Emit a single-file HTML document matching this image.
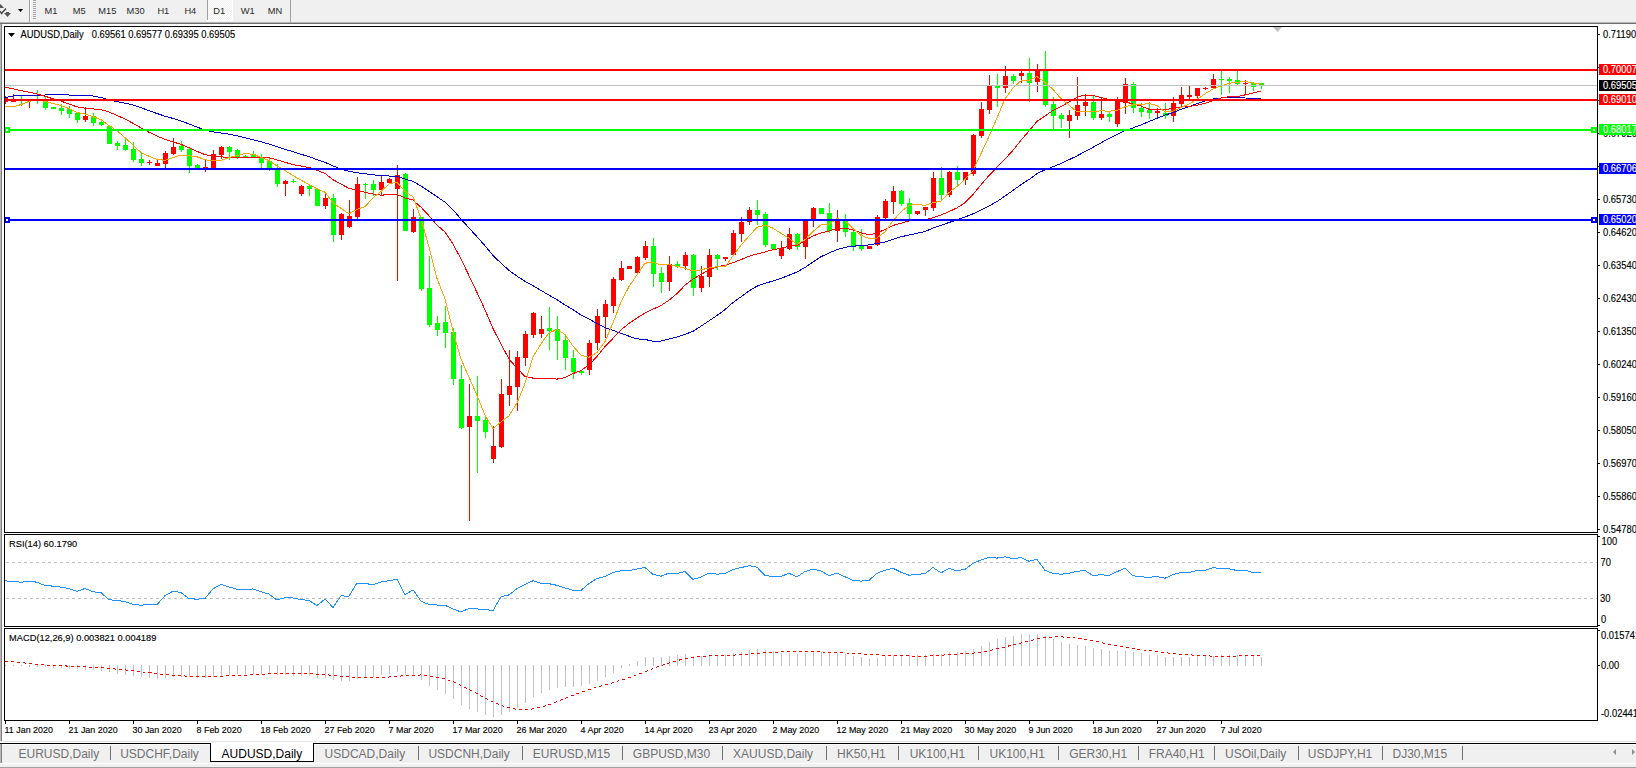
<!DOCTYPE html>
<html><head><meta charset="utf-8"><style>
html,body{margin:0;padding:0;background:#f0f0f0;}
body{width:1636px;height:768px;overflow:hidden;position:relative;}
svg{position:absolute;left:0;top:0;font-family:"Liberation Sans",sans-serif;}
</style></head><body>
<svg width="1636" height="768" viewBox="0 0 1636 768" shape-rendering="crispEdges">
<defs><clipPath id="cm"><rect x="5" y="27" width="1592" height="505"/></clipPath></defs>
<rect x="0" y="0" width="1636" height="22" fill="#f0f0f0"/>
<rect x="0" y="22" width="1636" height="1" fill="#b4b4b4"/>
<rect x="0" y="23" width="1636" height="1" fill="#6e6e6e"/>
<path d="M-3 8 L0.5 4 L4 8 Z" fill="#555" shape-rendering="auto"/>
<path d="M0 11 L1.5 13.5 L6 8.5" stroke="#444" stroke-width="1.4" fill="none" shape-rendering="auto"/>
<path d="M4 13 L11 13 L7.5 17 Z" fill="#555" shape-rendering="auto"/>
<rect x="6" y="12" width="3" height="1" fill="#555"/>
<path d="M18 9 L23 9 L20.5 12 Z" fill="#000" shape-rendering="auto"/>
<rect x="29" y="0" width="1" height="22" fill="#a0a0a0"/>
<rect x="30" y="0" width="1" height="22" fill="#ffffff"/>
<rect x="33" y="0" width="3" height="1" fill="#a8a8a8"/>
<rect x="33" y="2" width="3" height="1" fill="#a8a8a8"/>
<rect x="33" y="4" width="3" height="1" fill="#a8a8a8"/>
<rect x="33" y="6" width="3" height="1" fill="#a8a8a8"/>
<rect x="33" y="8" width="3" height="1" fill="#a8a8a8"/>
<rect x="33" y="10" width="3" height="1" fill="#a8a8a8"/>
<rect x="33" y="12" width="3" height="1" fill="#a8a8a8"/>
<rect x="33" y="14" width="3" height="1" fill="#a8a8a8"/>
<rect x="33" y="16" width="3" height="1" fill="#a8a8a8"/>
<rect x="33" y="18" width="3" height="1" fill="#a8a8a8"/>
<rect x="207" y="0" width="1" height="20" fill="#a0a0a0"/>
<defs><pattern id="dith" width="2" height="2" patternUnits="userSpaceOnUse"><rect width="2" height="2" fill="#f0f0f0"/><rect width="1" height="1" fill="#ffffff"/><rect x="1" y="1" width="1" height="1" fill="#ffffff"/></pattern></defs>
<rect x="208" y="0" width="24" height="20" fill="url(#dith)"/>
<rect x="232" y="0" width="1" height="21" fill="#ffffff"/>
<rect x="207" y="20" width="26" height="1" fill="#ffffff"/>
<rect x="290" y="0" width="1" height="22" fill="#a0a0a0"/>
<text font-size="9.8" fill="#2a2a2a" transform="translate(44.6,14) scale(0.95,1)">M1</text>
<text font-size="9.8" fill="#2a2a2a" transform="translate(72.7,14) scale(0.95,1)">M5</text>
<text font-size="9.8" fill="#2a2a2a" transform="translate(98.3,14) scale(0.95,1)">M15</text>
<text font-size="9.8" fill="#2a2a2a" transform="translate(126.6,14) scale(0.95,1)">M30</text>
<text font-size="9.8" fill="#2a2a2a" transform="translate(157.4,14) scale(0.95,1)">H1</text>
<text font-size="9.8" fill="#2a2a2a" transform="translate(184.4,14) scale(0.95,1)">H4</text>
<text font-size="9.8" fill="#2a2a2a" transform="translate(213.2,14) scale(0.95,1)">D1</text>
<text font-size="9.8" fill="#2a2a2a" transform="translate(240.8,14) scale(0.95,1)">W1</text>
<text font-size="9.8" fill="#2a2a2a" transform="translate(267.8,14) scale(0.95,1)">MN</text>
<rect x="0" y="24" width="1636" height="718" fill="#ffffff"/>
<rect x="0" y="24" width="1" height="718" fill="#b8b8b8"/>
<rect x="1" y="24" width="1" height="718" fill="#808080"/>
<g clip-path="url(#cm)">
<rect x="5" y="96" width="1" height="8" fill="#ff0000"/>
<rect x="3" y="98" width="5" height="4" fill="#ff0000"/>
<rect x="13" y="94" width="1" height="8" fill="#ff0000"/>
<rect x="11" y="99" width="5" height="3" fill="#ff0000"/>
<rect x="21" y="96" width="1" height="10" fill="#00ff00"/>
<rect x="19" y="100" width="5" height="1" fill="#00ff00"/>
<rect x="29" y="99" width="1" height="9" fill="#ff0000"/>
<rect x="27" y="99" width="5" height="1" fill="#ff0000"/>
<rect x="37" y="90" width="1" height="14" fill="#00ff00"/>
<rect x="35" y="99" width="5" height="2" fill="#00ff00"/>
<rect x="45" y="97" width="1" height="13" fill="#00ff00"/>
<rect x="43" y="101" width="5" height="7" fill="#00ff00"/>
<rect x="53" y="107" width="1" height="2" fill="#00ff00"/>
<rect x="51" y="107" width="5" height="2" fill="#00ff00"/>
<rect x="61" y="104" width="1" height="11" fill="#00ff00"/>
<rect x="59" y="108" width="5" height="3" fill="#00ff00"/>
<rect x="69" y="106" width="1" height="12" fill="#00ff00"/>
<rect x="67" y="109" width="5" height="5" fill="#00ff00"/>
<rect x="77" y="112" width="1" height="11" fill="#00ff00"/>
<rect x="75" y="113" width="5" height="7" fill="#00ff00"/>
<rect x="85" y="107" width="1" height="15" fill="#ff0000"/>
<rect x="83" y="116" width="5" height="4" fill="#ff0000"/>
<rect x="93" y="113" width="1" height="13" fill="#00ff00"/>
<rect x="91" y="116" width="5" height="7" fill="#00ff00"/>
<rect x="101" y="121" width="1" height="5" fill="#00ff00"/>
<rect x="99" y="122" width="5" height="3" fill="#00ff00"/>
<rect x="109" y="125" width="1" height="19" fill="#00ff00"/>
<rect x="107" y="126" width="5" height="18" fill="#00ff00"/>
<rect x="117" y="141" width="1" height="9" fill="#00ff00"/>
<rect x="115" y="143" width="5" height="3" fill="#00ff00"/>
<rect x="125" y="137" width="1" height="14" fill="#00ff00"/>
<rect x="123" y="145" width="5" height="5" fill="#00ff00"/>
<rect x="133" y="142" width="1" height="20" fill="#00ff00"/>
<rect x="131" y="149" width="5" height="11" fill="#00ff00"/>
<rect x="141" y="152" width="1" height="14" fill="#00ff00"/>
<rect x="139" y="159" width="5" height="4" fill="#00ff00"/>
<rect x="149" y="160" width="1" height="5" fill="#ff0000"/>
<rect x="147" y="162" width="5" height="1" fill="#ff0000"/>
<rect x="157" y="160" width="1" height="6" fill="#ff0000"/>
<rect x="155" y="163" width="5" height="3" fill="#ff0000"/>
<rect x="165" y="151" width="1" height="17" fill="#ff0000"/>
<rect x="163" y="153" width="5" height="11" fill="#ff0000"/>
<rect x="173" y="138" width="1" height="17" fill="#ff0000"/>
<rect x="171" y="147" width="5" height="7" fill="#ff0000"/>
<rect x="181" y="141" width="1" height="11" fill="#00ff00"/>
<rect x="179" y="146" width="5" height="4" fill="#00ff00"/>
<rect x="189" y="148" width="1" height="25" fill="#00ff00"/>
<rect x="187" y="149" width="5" height="17" fill="#00ff00"/>
<rect x="197" y="164" width="1" height="4" fill="#00ff00"/>
<rect x="195" y="165" width="5" height="3" fill="#00ff00"/>
<rect x="205" y="159" width="1" height="13" fill="#ff0000"/>
<rect x="203" y="167" width="5" height="2" fill="#ff0000"/>
<rect x="213" y="150" width="1" height="18" fill="#ff0000"/>
<rect x="211" y="154" width="5" height="14" fill="#ff0000"/>
<rect x="221" y="146" width="1" height="13" fill="#ff0000"/>
<rect x="219" y="147" width="5" height="8" fill="#ff0000"/>
<rect x="229" y="146" width="1" height="14" fill="#00ff00"/>
<rect x="227" y="147" width="5" height="5" fill="#00ff00"/>
<rect x="237" y="149" width="1" height="10" fill="#00ff00"/>
<rect x="235" y="150" width="5" height="7" fill="#00ff00"/>
<rect x="245" y="155" width="1" height="3" fill="#00ff00"/>
<rect x="243" y="156" width="5" height="2" fill="#00ff00"/>
<rect x="253" y="151" width="1" height="6" fill="#00ff00"/>
<rect x="251" y="154" width="5" height="3" fill="#00ff00"/>
<rect x="261" y="154" width="1" height="14" fill="#00ff00"/>
<rect x="259" y="157" width="5" height="6" fill="#00ff00"/>
<rect x="269" y="158" width="1" height="13" fill="#00ff00"/>
<rect x="267" y="161" width="5" height="7" fill="#00ff00"/>
<rect x="277" y="164" width="1" height="23" fill="#00ff00"/>
<rect x="275" y="170" width="5" height="14" fill="#00ff00"/>
<rect x="285" y="180" width="1" height="16" fill="#ff0000"/>
<rect x="283" y="181" width="5" height="3" fill="#ff0000"/>
<rect x="293" y="179" width="1" height="4" fill="#00ff00"/>
<rect x="291" y="181" width="5" height="1" fill="#00ff00"/>
<rect x="301" y="185" width="1" height="11" fill="#ff0000"/>
<rect x="299" y="186" width="5" height="8" fill="#ff0000"/>
<rect x="309" y="185" width="1" height="11" fill="#00ff00"/>
<rect x="307" y="186" width="5" height="3" fill="#00ff00"/>
<rect x="317" y="189" width="1" height="17" fill="#00ff00"/>
<rect x="315" y="189" width="5" height="17" fill="#00ff00"/>
<rect x="325" y="193" width="1" height="16" fill="#ff0000"/>
<rect x="323" y="198" width="5" height="8" fill="#ff0000"/>
<rect x="333" y="194" width="1" height="48" fill="#00ff00"/>
<rect x="331" y="198" width="5" height="37" fill="#00ff00"/>
<rect x="341" y="213" width="1" height="27" fill="#ff0000"/>
<rect x="339" y="214" width="5" height="21" fill="#ff0000"/>
<rect x="349" y="200" width="1" height="28" fill="#ff0000"/>
<rect x="347" y="216" width="5" height="11" fill="#ff0000"/>
<rect x="357" y="177" width="1" height="42" fill="#ff0000"/>
<rect x="355" y="184" width="5" height="33" fill="#ff0000"/>
<rect x="365" y="183" width="1" height="16" fill="#00ff00"/>
<rect x="363" y="184" width="5" height="1" fill="#00ff00"/>
<rect x="373" y="180" width="1" height="16" fill="#00ff00"/>
<rect x="371" y="184" width="5" height="6" fill="#00ff00"/>
<rect x="381" y="175" width="1" height="20" fill="#ff0000"/>
<rect x="379" y="182" width="5" height="8" fill="#ff0000"/>
<rect x="389" y="178" width="1" height="6" fill="#ff0000"/>
<rect x="387" y="179" width="5" height="4" fill="#ff0000"/>
<rect x="397" y="165" width="1" height="116" fill="#ff0000"/>
<rect x="395" y="175" width="5" height="14" fill="#ff0000"/>
<rect x="405" y="173" width="1" height="58" fill="#00ff00"/>
<rect x="403" y="174" width="5" height="57" fill="#00ff00"/>
<rect x="413" y="209" width="1" height="24" fill="#ff0000"/>
<rect x="411" y="217" width="5" height="15" fill="#ff0000"/>
<rect x="421" y="217" width="1" height="74" fill="#00ff00"/>
<rect x="419" y="217" width="5" height="72" fill="#00ff00"/>
<rect x="429" y="256" width="1" height="71" fill="#00ff00"/>
<rect x="427" y="288" width="5" height="37" fill="#00ff00"/>
<rect x="437" y="316" width="1" height="20" fill="#00ff00"/>
<rect x="435" y="323" width="5" height="7" fill="#00ff00"/>
<rect x="445" y="306" width="1" height="42" fill="#00ff00"/>
<rect x="443" y="322" width="5" height="11" fill="#00ff00"/>
<rect x="453" y="328" width="1" height="57" fill="#00ff00"/>
<rect x="451" y="332" width="5" height="47" fill="#00ff00"/>
<rect x="461" y="365" width="1" height="64" fill="#00ff00"/>
<rect x="459" y="379" width="5" height="49" fill="#00ff00"/>
<rect x="469" y="384" width="1" height="137" fill="#ff0000"/>
<rect x="467" y="416" width="5" height="11" fill="#ff0000"/>
<rect x="477" y="376" width="1" height="97" fill="#00ff00"/>
<rect x="475" y="416" width="5" height="5" fill="#00ff00"/>
<rect x="485" y="416" width="1" height="22" fill="#00ff00"/>
<rect x="483" y="420" width="5" height="12" fill="#00ff00"/>
<rect x="493" y="426" width="1" height="37" fill="#ff0000"/>
<rect x="491" y="446" width="5" height="13" fill="#ff0000"/>
<rect x="501" y="379" width="1" height="69" fill="#ff0000"/>
<rect x="499" y="394" width="5" height="53" fill="#ff0000"/>
<rect x="509" y="350" width="1" height="56" fill="#ff0000"/>
<rect x="507" y="386" width="5" height="9" fill="#ff0000"/>
<rect x="517" y="351" width="1" height="60" fill="#ff0000"/>
<rect x="515" y="357" width="5" height="30" fill="#ff0000"/>
<rect x="525" y="331" width="1" height="35" fill="#ff0000"/>
<rect x="523" y="334" width="5" height="24" fill="#ff0000"/>
<rect x="533" y="312" width="1" height="26" fill="#ff0000"/>
<rect x="531" y="313" width="5" height="22" fill="#ff0000"/>
<rect x="541" y="316" width="1" height="22" fill="#ff0000"/>
<rect x="539" y="329" width="5" height="5" fill="#ff0000"/>
<rect x="549" y="307" width="1" height="43" fill="#00ff00"/>
<rect x="547" y="328" width="5" height="3" fill="#00ff00"/>
<rect x="557" y="316" width="1" height="44" fill="#00ff00"/>
<rect x="555" y="329" width="5" height="12" fill="#00ff00"/>
<rect x="565" y="335" width="1" height="35" fill="#00ff00"/>
<rect x="563" y="340" width="5" height="18" fill="#00ff00"/>
<rect x="573" y="350" width="1" height="29" fill="#00ff00"/>
<rect x="571" y="358" width="5" height="14" fill="#00ff00"/>
<rect x="581" y="370" width="1" height="5" fill="#00ff00"/>
<rect x="579" y="371" width="5" height="2" fill="#00ff00"/>
<rect x="589" y="340" width="1" height="35" fill="#ff0000"/>
<rect x="587" y="343" width="5" height="27" fill="#ff0000"/>
<rect x="597" y="309" width="1" height="41" fill="#ff0000"/>
<rect x="595" y="316" width="5" height="27" fill="#ff0000"/>
<rect x="605" y="300" width="1" height="38" fill="#ff0000"/>
<rect x="603" y="304" width="5" height="13" fill="#ff0000"/>
<rect x="613" y="277" width="1" height="36" fill="#ff0000"/>
<rect x="611" y="279" width="5" height="27" fill="#ff0000"/>
<rect x="621" y="261" width="1" height="20" fill="#ff0000"/>
<rect x="619" y="268" width="5" height="12" fill="#ff0000"/>
<rect x="629" y="266" width="1" height="3" fill="#ff0000"/>
<rect x="627" y="266" width="5" height="3" fill="#ff0000"/>
<rect x="637" y="256" width="1" height="18" fill="#ff0000"/>
<rect x="635" y="257" width="5" height="16" fill="#ff0000"/>
<rect x="645" y="241" width="1" height="19" fill="#ff0000"/>
<rect x="643" y="246" width="5" height="12" fill="#ff0000"/>
<rect x="653" y="238" width="1" height="49" fill="#00ff00"/>
<rect x="651" y="246" width="5" height="28" fill="#00ff00"/>
<rect x="661" y="267" width="1" height="26" fill="#00ff00"/>
<rect x="659" y="273" width="5" height="9" fill="#00ff00"/>
<rect x="669" y="256" width="1" height="35" fill="#ff0000"/>
<rect x="667" y="264" width="5" height="18" fill="#ff0000"/>
<rect x="677" y="261" width="1" height="7" fill="#00ff00"/>
<rect x="675" y="264" width="5" height="2" fill="#00ff00"/>
<rect x="685" y="252" width="1" height="18" fill="#ff0000"/>
<rect x="683" y="255" width="5" height="11" fill="#ff0000"/>
<rect x="693" y="254" width="1" height="42" fill="#00ff00"/>
<rect x="691" y="255" width="5" height="33" fill="#00ff00"/>
<rect x="701" y="266" width="1" height="26" fill="#ff0000"/>
<rect x="699" y="276" width="5" height="12" fill="#ff0000"/>
<rect x="709" y="249" width="1" height="38" fill="#ff0000"/>
<rect x="707" y="255" width="5" height="22" fill="#ff0000"/>
<rect x="717" y="254" width="1" height="16" fill="#00ff00"/>
<rect x="715" y="255" width="5" height="4" fill="#00ff00"/>
<rect x="725" y="257" width="1" height="4" fill="#ff0000"/>
<rect x="723" y="257" width="5" height="2" fill="#ff0000"/>
<rect x="733" y="230" width="1" height="26" fill="#ff0000"/>
<rect x="731" y="233" width="5" height="22" fill="#ff0000"/>
<rect x="741" y="217" width="1" height="25" fill="#ff0000"/>
<rect x="739" y="222" width="5" height="12" fill="#ff0000"/>
<rect x="749" y="207" width="1" height="18" fill="#ff0000"/>
<rect x="747" y="210" width="5" height="12" fill="#ff0000"/>
<rect x="757" y="200" width="1" height="25" fill="#00ff00"/>
<rect x="755" y="210" width="5" height="5" fill="#00ff00"/>
<rect x="765" y="212" width="1" height="35" fill="#00ff00"/>
<rect x="763" y="214" width="5" height="31" fill="#00ff00"/>
<rect x="773" y="244" width="1" height="5" fill="#00ff00"/>
<rect x="771" y="244" width="5" height="5" fill="#00ff00"/>
<rect x="781" y="241" width="1" height="18" fill="#ff0000"/>
<rect x="779" y="248" width="5" height="8" fill="#ff0000"/>
<rect x="789" y="228" width="1" height="22" fill="#ff0000"/>
<rect x="787" y="234" width="5" height="15" fill="#ff0000"/>
<rect x="797" y="233" width="1" height="17" fill="#00ff00"/>
<rect x="795" y="234" width="5" height="13" fill="#00ff00"/>
<rect x="805" y="221" width="1" height="38" fill="#ff0000"/>
<rect x="803" y="221" width="5" height="26" fill="#ff0000"/>
<rect x="813" y="207" width="1" height="20" fill="#ff0000"/>
<rect x="811" y="208" width="5" height="13" fill="#ff0000"/>
<rect x="821" y="208" width="1" height="6" fill="#00ff00"/>
<rect x="819" y="208" width="5" height="6" fill="#00ff00"/>
<rect x="829" y="203" width="1" height="30" fill="#00ff00"/>
<rect x="827" y="213" width="5" height="18" fill="#00ff00"/>
<rect x="837" y="210" width="1" height="32" fill="#ff0000"/>
<rect x="835" y="219" width="5" height="12" fill="#ff0000"/>
<rect x="845" y="214" width="1" height="23" fill="#00ff00"/>
<rect x="843" y="221" width="5" height="11" fill="#00ff00"/>
<rect x="853" y="230" width="1" height="21" fill="#00ff00"/>
<rect x="851" y="232" width="5" height="14" fill="#00ff00"/>
<rect x="861" y="229" width="1" height="22" fill="#00ff00"/>
<rect x="859" y="245" width="5" height="4" fill="#00ff00"/>
<rect x="869" y="246" width="1" height="3" fill="#ff0000"/>
<rect x="867" y="246" width="5" height="3" fill="#ff0000"/>
<rect x="877" y="215" width="1" height="31" fill="#ff0000"/>
<rect x="875" y="217" width="5" height="28" fill="#ff0000"/>
<rect x="885" y="199" width="1" height="22" fill="#ff0000"/>
<rect x="883" y="201" width="5" height="17" fill="#ff0000"/>
<rect x="893" y="186" width="1" height="28" fill="#ff0000"/>
<rect x="891" y="191" width="5" height="11" fill="#ff0000"/>
<rect x="901" y="190" width="1" height="16" fill="#00ff00"/>
<rect x="899" y="191" width="5" height="13" fill="#00ff00"/>
<rect x="909" y="198" width="1" height="21" fill="#00ff00"/>
<rect x="907" y="203" width="5" height="11" fill="#00ff00"/>
<rect x="917" y="211" width="1" height="4" fill="#ff0000"/>
<rect x="915" y="211" width="5" height="3" fill="#ff0000"/>
<rect x="925" y="207" width="1" height="9" fill="#ff0000"/>
<rect x="923" y="207" width="5" height="3" fill="#ff0000"/>
<rect x="933" y="172" width="1" height="39" fill="#ff0000"/>
<rect x="931" y="178" width="5" height="30" fill="#ff0000"/>
<rect x="941" y="167" width="1" height="33" fill="#00ff00"/>
<rect x="939" y="178" width="5" height="17" fill="#00ff00"/>
<rect x="949" y="171" width="1" height="26" fill="#ff0000"/>
<rect x="947" y="172" width="5" height="23" fill="#ff0000"/>
<rect x="957" y="166" width="1" height="20" fill="#00ff00"/>
<rect x="955" y="172" width="5" height="8" fill="#00ff00"/>
<rect x="965" y="172" width="1" height="13" fill="#ff0000"/>
<rect x="963" y="172" width="5" height="8" fill="#ff0000"/>
<rect x="973" y="134" width="1" height="42" fill="#ff0000"/>
<rect x="971" y="135" width="5" height="39" fill="#ff0000"/>
<rect x="981" y="102" width="1" height="36" fill="#ff0000"/>
<rect x="979" y="109" width="5" height="27" fill="#ff0000"/>
<rect x="989" y="75" width="1" height="39" fill="#ff0000"/>
<rect x="987" y="86" width="5" height="24" fill="#ff0000"/>
<rect x="997" y="74" width="1" height="33" fill="#00ff00"/>
<rect x="995" y="86" width="5" height="2" fill="#00ff00"/>
<rect x="1005" y="66" width="1" height="27" fill="#ff0000"/>
<rect x="1003" y="76" width="5" height="12" fill="#ff0000"/>
<rect x="1013" y="74" width="1" height="10" fill="#00ff00"/>
<rect x="1011" y="76" width="5" height="5" fill="#00ff00"/>
<rect x="1021" y="70" width="1" height="13" fill="#ff0000"/>
<rect x="1019" y="73" width="5" height="3" fill="#ff0000"/>
<rect x="1029" y="58" width="1" height="44" fill="#00ff00"/>
<rect x="1027" y="73" width="5" height="10" fill="#00ff00"/>
<rect x="1037" y="64" width="1" height="28" fill="#ff0000"/>
<rect x="1035" y="70" width="5" height="12" fill="#ff0000"/>
<rect x="1045" y="51" width="1" height="56" fill="#00ff00"/>
<rect x="1043" y="71" width="5" height="34" fill="#00ff00"/>
<rect x="1053" y="97" width="1" height="34" fill="#00ff00"/>
<rect x="1051" y="104" width="5" height="12" fill="#00ff00"/>
<rect x="1061" y="113" width="1" height="15" fill="#00ff00"/>
<rect x="1059" y="115" width="5" height="4" fill="#00ff00"/>
<rect x="1069" y="110" width="1" height="28" fill="#ff0000"/>
<rect x="1067" y="115" width="5" height="6" fill="#ff0000"/>
<rect x="1077" y="77" width="1" height="43" fill="#ff0000"/>
<rect x="1075" y="105" width="5" height="11" fill="#ff0000"/>
<rect x="1085" y="95" width="1" height="21" fill="#ff0000"/>
<rect x="1083" y="102" width="5" height="4" fill="#ff0000"/>
<rect x="1093" y="96" width="1" height="24" fill="#00ff00"/>
<rect x="1091" y="102" width="5" height="16" fill="#00ff00"/>
<rect x="1101" y="98" width="1" height="22" fill="#ff0000"/>
<rect x="1099" y="114" width="5" height="4" fill="#ff0000"/>
<rect x="1109" y="112" width="1" height="10" fill="#00ff00"/>
<rect x="1107" y="114" width="5" height="3" fill="#00ff00"/>
<rect x="1117" y="97" width="1" height="30" fill="#ff0000"/>
<rect x="1115" y="101" width="5" height="23" fill="#ff0000"/>
<rect x="1125" y="78" width="1" height="36" fill="#ff0000"/>
<rect x="1123" y="84" width="5" height="19" fill="#ff0000"/>
<rect x="1133" y="82" width="1" height="31" fill="#00ff00"/>
<rect x="1131" y="84" width="5" height="24" fill="#00ff00"/>
<rect x="1141" y="103" width="1" height="14" fill="#00ff00"/>
<rect x="1139" y="108" width="5" height="4" fill="#00ff00"/>
<rect x="1149" y="102" width="1" height="17" fill="#00ff00"/>
<rect x="1147" y="110" width="5" height="3" fill="#00ff00"/>
<rect x="1157" y="108" width="1" height="9" fill="#ff0000"/>
<rect x="1155" y="111" width="5" height="2" fill="#ff0000"/>
<rect x="1165" y="103" width="1" height="16" fill="#00ff00"/>
<rect x="1163" y="113" width="5" height="3" fill="#00ff00"/>
<rect x="1173" y="97" width="1" height="25" fill="#ff0000"/>
<rect x="1171" y="103" width="5" height="13" fill="#ff0000"/>
<rect x="1181" y="87" width="1" height="20" fill="#ff0000"/>
<rect x="1179" y="95" width="5" height="9" fill="#ff0000"/>
<rect x="1189" y="85" width="1" height="14" fill="#ff0000"/>
<rect x="1187" y="95" width="5" height="2" fill="#ff0000"/>
<rect x="1197" y="88" width="1" height="10" fill="#ff0000"/>
<rect x="1195" y="88" width="5" height="8" fill="#ff0000"/>
<rect x="1205" y="87" width="1" height="3" fill="#ff0000"/>
<rect x="1203" y="88" width="5" height="1" fill="#ff0000"/>
<rect x="1213" y="74" width="1" height="15" fill="#ff0000"/>
<rect x="1211" y="79" width="5" height="9" fill="#ff0000"/>
<rect x="1221" y="71" width="1" height="24" fill="#00ff00"/>
<rect x="1219" y="79" width="5" height="1" fill="#00ff00"/>
<rect x="1229" y="77" width="1" height="16" fill="#00ff00"/>
<rect x="1227" y="79" width="5" height="2" fill="#00ff00"/>
<rect x="1237" y="71" width="1" height="15" fill="#00ff00"/>
<rect x="1235" y="80" width="5" height="4" fill="#00ff00"/>
<rect x="1245" y="80" width="1" height="14" fill="#ff0000"/>
<rect x="1243" y="83" width="5" height="1" fill="#ff0000"/>
<rect x="1253" y="82" width="1" height="9" fill="#00ff00"/>
<rect x="1251" y="83" width="5" height="4" fill="#00ff00"/>
<rect x="1261" y="83" width="1" height="6" fill="#00ff00"/>
<rect x="1259" y="83" width="5" height="3" fill="#00ff00"/>
</g>
<polyline points="5,97.5 13,96.0 21,95.0 29,95.0 37,95.0 45,95.0 53,94.0 61,94.0 69,95.0 77,95.0 85,95.0 93,96.0 101,97.5 109,100.0 117,101.7 125,103.2 133,104.9 141,107.7 149,110.7 157,113.5 165,116.2 173,118.4 181,121.0 189,123.9 197,127.1 205,130.0 213,131.8 221,133.0 229,134.2 237,135.8 245,137.8 253,139.7 261,141.8 269,144.1 277,146.8 285,149.3 293,151.7 301,154.2 309,156.7 317,159.6 325,162.3 333,166.0 341,169.0 349,171.4 357,172.7 365,173.8 373,174.8 381,175.5 389,176.0 397,176.4 405,179.0 413,181.4 421,186.0 429,191.3 437,196.7 445,202.2 453,209.7 461,219.1 469,227.9 477,236.7 485,245.8 493,255.5 501,263.2 509,270.4 517,276.2 525,281.3 533,285.7 541,290.4 549,295.2 557,299.7 565,305.0 573,309.6 581,314.9 589,319.1 597,323.5 605,327.5 613,330.4 621,333.3 629,336.2 637,338.9 645,339.4 653,341.3 661,341.1 669,339.1 677,336.9 685,334.3 693,331.3 701,326.2 709,320.9 717,315.5 725,309.6 733,302.5 741,296.8 749,290.9 757,286.2 765,283.2 773,281.1 781,278.4 789,275.2 797,272.0 805,267.5 813,262.0 821,256.7 829,253.0 837,249.7 845,247.3 853,246.2 861,245.6 869,244.9 877,243.6 885,242.1 893,239.3 901,236.7 909,235.1 917,233.2 925,231.6 933,228.0 941,225.3 949,222.5 957,219.9 965,217.0 973,213.8 981,210.0 989,205.9 997,201.6 1005,196.0 1013,190.4 1021,184.6 1029,179.5 1037,173.6 1045,169.8 1053,166.7 1061,163.5 1069,159.7 1077,155.9 1085,151.5 1093,147.3 1101,142.8 1109,138.5 1117,134.6 1125,130.7 1133,127.9 1141,124.9 1149,121.5 1157,118.2 1165,115.1 1173,112.6 1181,109.3 1189,106.7 1197,103.7 1205,100.9 1213,99.0 1221,98.0 1229,97.9 1237,97.7 1245,98.0 1253,98.2 1261,98.6" fill="none" stroke="#0000cd" stroke-width="1"/>
<polyline points="5,87.3 13,88.7 21,90.7 29,92.1 37,94.1 45,96.2 53,98.8 61,101.1 69,104.0 77,106.9 85,108.1 93,108.9 101,109.6 109,112.0 117,115.4 125,119.1 133,123.3 141,127.9 149,132.2 157,136.1 165,139.3 173,141.9 181,144.4 189,147.7 197,151.4 205,154.6 213,156.6 221,156.9 229,157.3 237,157.8 245,157.6 253,157.2 261,157.3 269,157.6 277,159.9 285,162.3 293,164.6 301,166.0 309,167.5 317,170.3 325,173.4 333,179.7 341,184.1 349,188.4 357,190.2 365,192.2 373,194.1 381,195.1 389,194.8 397,194.4 405,197.9 413,200.1 421,207.2 429,215.7 437,225.1 445,232.1 453,243.9 461,259.1 469,275.6 477,292.5 485,309.8 493,328.6 501,344.0 509,359.1 517,368.1 525,376.4 533,378.1 541,378.4 549,378.5 557,379.1 565,377.6 573,373.6 581,370.5 589,364.9 597,356.6 605,346.5 613,338.3 621,329.9 629,323.4 637,317.9 645,313.1 653,309.1 661,305.6 669,300.1 677,293.6 685,285.2 693,279.1 701,274.4 709,270.0 717,266.8 725,265.2 733,262.7 741,259.6 749,256.2 757,254.0 765,251.9 773,249.6 781,248.4 789,246.1 797,245.6 805,240.8 813,235.9 821,233.0 829,231.0 837,228.3 845,228.2 853,229.9 861,232.7 869,234.9 877,232.9 885,229.5 893,225.4 901,223.3 909,220.9 917,220.2 925,220.1 933,217.6 941,215.0 949,211.6 957,207.9 965,202.6 973,194.5 981,184.7 989,175.4 997,167.3 1005,159.1 1013,150.3 1021,140.2 1029,131.1 1037,121.3 1045,116.1 1053,110.4 1061,106.6 1069,102.0 1077,97.2 1085,94.9 1093,95.5 1101,97.5 1109,99.6 1117,101.4 1125,101.6 1133,104.1 1141,106.1 1149,109.2 1157,109.6 1165,109.6 1173,108.5 1181,107.1 1189,106.4 1197,105.4 1205,103.2 1213,100.7 1221,98.1 1229,96.6 1237,96.6 1245,94.9 1253,93.1 1261,91.1" fill="none" stroke="#ff0000" stroke-width="1"/>
<polyline points="5,107.0 13,106.8 21,104.6 29,101.4 37,99.6 45,101.6 53,103.6 61,105.6 69,108.6 77,112.4 85,114.0 93,116.8 101,119.6 109,125.6 117,130.8 125,137.6 133,145.0 141,152.6 149,156.2 157,159.6 165,160.2 173,157.6 181,155.0 189,155.8 197,156.8 205,159.6 213,161.0 221,160.4 229,157.6 237,155.4 245,153.6 253,154.2 261,157.4 269,160.6 277,166.0 285,170.6 293,175.6 301,180.2 309,184.4 317,188.8 325,192.2 333,202.8 341,208.4 349,213.8 357,209.4 365,206.8 373,197.8 381,191.4 389,184.0 397,182.2 405,191.4 413,196.8 421,218.2 429,247.4 437,278.4 445,298.8 453,331.2 461,359.0 469,377.2 477,395.4 485,415.2 493,428.6 501,421.8 509,415.8 517,403.0 525,383.4 533,356.8 541,343.8 549,332.8 557,329.6 565,334.4 573,346.2 581,355.0 589,357.4 597,352.4 605,341.6 613,323.0 621,302.0 629,286.6 637,274.8 645,263.2 653,262.2 661,265.0 669,264.6 677,266.4 685,268.2 693,271.0 701,269.8 709,268.0 717,266.6 725,267.0 733,256.0 741,245.2 749,236.2 757,227.4 765,225.0 773,228.2 781,233.4 789,238.2 797,244.6 805,239.8 813,231.6 821,224.8 829,224.2 837,218.6 845,220.8 853,228.4 861,235.4 869,238.4 877,238.0 885,231.8 893,220.8 901,211.8 909,205.4 917,204.2 925,205.4 933,202.8 941,201.0 949,192.6 957,186.4 965,179.4 973,170.8 981,153.6 989,136.4 997,118.0 1005,98.8 1013,88.0 1021,80.8 1029,80.2 1037,76.6 1045,82.4 1053,89.4 1061,98.6 1069,105.0 1077,112.0 1085,111.4 1093,111.8 1101,110.8 1109,111.2 1117,110.4 1125,106.8 1133,104.8 1141,104.4 1149,103.6 1157,105.6 1165,112.0 1173,111.0 1181,107.6 1189,104.0 1197,99.4 1205,93.8 1213,89.0 1221,86.0 1229,83.2 1237,82.4 1245,81.4 1253,83.0 1261,84.2" fill="none" stroke="#ffa500" stroke-width="1"/>
<rect x="5" y="69" width="1592" height="2" fill="#ff0000"/>
<rect x="5" y="85" width="1592" height="1" fill="#c0c0c0"/>
<rect x="5" y="99" width="1592" height="2" fill="#ff0000"/>
<rect x="5" y="129" width="1592" height="2" fill="#00ff00"/>
<rect x="4" y="127" width="6" height="6" fill="#00ff00"/>
<rect x="6" y="129" width="2" height="2" fill="#ffffff"/>
<rect x="1591" y="127" width="6" height="6" fill="#00ff00"/>
<rect x="1593" y="129" width="2" height="2" fill="#ffffff"/>
<rect x="5" y="168" width="1592" height="2" fill="#0000ff"/>
<rect x="5" y="219" width="1592" height="2" fill="#0000ff"/>
<rect x="4" y="217" width="6" height="6" fill="#0000ff"/>
<rect x="6" y="219" width="2" height="2" fill="#ffffff"/>
<rect x="1591" y="217" width="6" height="6" fill="#0000ff"/>
<rect x="1593" y="219" width="2" height="2" fill="#ffffff"/>
<rect x="4" y="26" width="1594" height="1" fill="#000"/>
<rect x="4" y="532" width="1594" height="1" fill="#000"/>
<rect x="4" y="26" width="1" height="507" fill="#000"/>
<rect x="1597" y="26" width="1" height="507" fill="#000"/>
<rect x="4" y="534" width="1594" height="1" fill="#000"/>
<rect x="4" y="626" width="1594" height="1" fill="#000"/>
<rect x="4" y="534" width="1" height="93" fill="#000"/>
<rect x="1597" y="534" width="1" height="93" fill="#000"/>
<rect x="4" y="628" width="1594" height="1" fill="#000"/>
<rect x="4" y="720" width="1594" height="1" fill="#000"/>
<rect x="4" y="628" width="1" height="93" fill="#000"/>
<rect x="1597" y="628" width="1" height="93" fill="#000"/>
<path d="M1273 27 L1282 27 L1277.5 32 Z" fill="#c0c0c0" shape-rendering="auto"/>
<path d="M8 33 L15 33 L11.5 37 Z" fill="#000" shape-rendering="auto"/>
<text transform="translate(20.5,38) scale(0.92,1)" font-size="10.2" fill="#000" stroke="#000" stroke-width="0.14">AUDUSD,Daily</text>
<text transform="translate(91.7,38) scale(0.92,1)" font-size="10.2" fill="#000" stroke="#000" stroke-width="0.14">0.69561 0.69577 0.69395 0.69505</text>
<rect x="1598" y="34" width="2" height="1" fill="#000"/>
<text transform="translate(1603,38) scale(0.92,1)" font-size="10.2" fill="#000" stroke="#000" stroke-width="0.14">0.71190</text>
<rect x="1598" y="199" width="2" height="1" fill="#000"/>
<text transform="translate(1603,203) scale(0.92,1)" font-size="10.2" fill="#000" stroke="#000" stroke-width="0.14">0.65730</text>
<rect x="1598" y="232" width="2" height="1" fill="#000"/>
<text transform="translate(1603,236) scale(0.92,1)" font-size="10.2" fill="#000" stroke="#000" stroke-width="0.14">0.64620</text>
<rect x="1598" y="265" width="2" height="1" fill="#000"/>
<text transform="translate(1603,269) scale(0.92,1)" font-size="10.2" fill="#000" stroke="#000" stroke-width="0.14">0.63540</text>
<rect x="1598" y="298" width="2" height="1" fill="#000"/>
<text transform="translate(1603,302) scale(0.92,1)" font-size="10.2" fill="#000" stroke="#000" stroke-width="0.14">0.62430</text>
<rect x="1598" y="331" width="2" height="1" fill="#000"/>
<text transform="translate(1603,335) scale(0.92,1)" font-size="10.2" fill="#000" stroke="#000" stroke-width="0.14">0.61350</text>
<rect x="1598" y="364" width="2" height="1" fill="#000"/>
<text transform="translate(1603,368) scale(0.92,1)" font-size="10.2" fill="#000" stroke="#000" stroke-width="0.14">0.60240</text>
<rect x="1598" y="397" width="2" height="1" fill="#000"/>
<text transform="translate(1603,401) scale(0.92,1)" font-size="10.2" fill="#000" stroke="#000" stroke-width="0.14">0.59160</text>
<rect x="1598" y="430" width="2" height="1" fill="#000"/>
<text transform="translate(1603,434) scale(0.92,1)" font-size="10.2" fill="#000" stroke="#000" stroke-width="0.14">0.58050</text>
<rect x="1598" y="463" width="2" height="1" fill="#000"/>
<text transform="translate(1603,467) scale(0.92,1)" font-size="10.2" fill="#000" stroke="#000" stroke-width="0.14">0.56970</text>
<rect x="1598" y="496" width="2" height="1" fill="#000"/>
<text transform="translate(1603,500) scale(0.92,1)" font-size="10.2" fill="#000" stroke="#000" stroke-width="0.14">0.55860</text>
<rect x="1598" y="529" width="2" height="1" fill="#000"/>
<text transform="translate(1603,533) scale(0.92,1)" font-size="10.2" fill="#000" stroke="#000" stroke-width="0.14">0.54780</text>
<rect x="1598" y="133" width="2" height="1" fill="#000"/>
<text transform="translate(1603,137) scale(0.92,1)" font-size="10.2" fill="#000" stroke="#000" stroke-width="0.14">0.67920</text>
<rect x="1598" y="67" width="2" height="1" fill="#000"/>
<rect x="1598" y="100" width="2" height="1" fill="#000"/>
<rect x="1598" y="166" width="2" height="1" fill="#000"/>
<rect x="1599" y="64" width="37" height="11" fill="#ff0000"/>
<text transform="translate(1603,73) scale(0.92,1)" font-size="10.2" fill="#fff" stroke="#fff" stroke-width="0.14">0.70007</text>
<rect x="1599" y="80" width="37" height="11" fill="#000000"/>
<text transform="translate(1603,89) scale(0.92,1)" font-size="10.2" fill="#fff" stroke="#fff" stroke-width="0.14">0.69505</text>
<rect x="1599" y="94" width="37" height="11" fill="#ff0000"/>
<text transform="translate(1603,103) scale(0.92,1)" font-size="10.2" fill="#fff" stroke="#fff" stroke-width="0.14">0.69010</text>
<rect x="1599" y="124" width="37" height="11" fill="#00ff00"/>
<text transform="translate(1603,133) scale(0.92,1)" font-size="10.2" fill="#fff" stroke="#fff" stroke-width="0.14">0.68017</text>
<rect x="1599" y="163" width="37" height="11" fill="#0000ff"/>
<text transform="translate(1603,172) scale(0.92,1)" font-size="10.2" fill="#fff" stroke="#fff" stroke-width="0.14">0.66706</text>
<rect x="1599" y="214" width="37" height="11" fill="#0000ff"/>
<text transform="translate(1603,223) scale(0.92,1)" font-size="10.2" fill="#fff" stroke="#fff" stroke-width="0.14">0.65020</text>
<text transform="translate(9,547) scale(0.95,1)" font-size="9.8" fill="#000" stroke="#000" stroke-width="0.14">RSI(14) 60.1790</text>
<line x1="5" y1="562.5" x2="1597" y2="562.5" stroke="#c0c0c0" stroke-dasharray="3,3" stroke-dashoffset="-1"/>
<line x1="5" y1="598.5" x2="1597" y2="598.5" stroke="#c0c0c0" stroke-dasharray="3,3" stroke-dashoffset="-1"/>
<polyline points="5,580.9 13,581.3 21,582.2 29,581.2 37,582.2 45,585.6 53,586.1 61,587.1 69,588.6 77,591.4 85,588.5 93,591.8 101,592.7 109,599.8 117,600.4 125,601.6 133,604.4 141,605.2 149,604.3 157,604.6 165,595.7 173,591.1 181,592.5 189,598.6 197,599.2 205,598.4 213,588.8 221,584.4 229,586.9 237,589.2 245,589.6 253,588.9 261,591.8 269,594.1 277,600.0 285,597.6 293,598.0 301,599.5 309,600.5 317,605.5 325,599.1 333,607.4 341,595.8 349,596.3 357,583.0 365,583.3 373,584.9 381,581.9 389,580.7 397,579.2 405,594.8 413,589.8 421,601.1 429,604.6 437,605.0 445,605.3 453,609.0 461,611.9 469,608.5 477,608.9 485,609.6 493,610.5 501,596.7 509,594.9 517,588.7 525,584.4 533,580.8 541,583.4 549,583.7 557,585.3 565,588.0 573,590.2 581,590.3 589,583.6 597,578.5 605,576.4 613,572.4 621,570.8 629,570.5 637,569.1 645,567.4 653,574.4 661,576.2 669,573.0 677,573.5 685,571.5 693,579.4 701,577.0 709,573.1 717,574.1 725,573.7 733,569.4 741,567.6 749,565.7 757,567.2 765,575.5 773,576.5 781,576.3 789,573.3 797,576.9 805,571.5 813,569.1 821,570.9 829,575.7 837,573.2 845,576.8 853,580.3 861,581.1 869,580.3 877,573.3 885,570.2 893,568.3 901,572.3 909,575.2 917,574.5 925,573.6 933,567.5 941,572.8 949,568.4 957,570.8 965,569.3 973,563.3 981,560.0 989,557.5 997,558.1 1005,556.8 1013,558.6 1021,557.6 1029,561.2 1037,559.4 1045,570.4 1053,573.4 1061,574.2 1069,573.3 1077,571.2 1085,570.6 1093,575.6 1101,574.7 1109,575.6 1117,571.7 1125,568.0 1133,575.7 1141,576.9 1149,577.2 1157,576.6 1165,578.3 1173,574.5 1181,572.4 1189,572.4 1197,570.4 1205,570.4 1213,567.8 1221,568.3 1229,568.9 1237,570.5 1245,570.2 1253,572.5 1261,572.1" fill="none" stroke="#1e90ff" stroke-width="1"/>
<text transform="translate(1601.5,545) scale(0.92,1)" font-size="10.2" fill="#000" stroke="#000" stroke-width="0.14">100</text>
<text transform="translate(1600.5,566) scale(0.92,1)" font-size="10.2" fill="#000" stroke="#000" stroke-width="0.14">70</text>
<text transform="translate(1600,602) scale(0.92,1)" font-size="10.2" fill="#000" stroke="#000" stroke-width="0.14">30</text>
<text transform="translate(1601,623) scale(0.92,1)" font-size="10.2" fill="#000" stroke="#000" stroke-width="0.14">0</text>
<rect x="1598" y="536" width="2" height="1" fill="#000"/>
<rect x="1598" y="625" width="2" height="1" fill="#000"/>
<rect x="5" y="665" width="1" height="1" fill="#c0c0c0"/>
<rect x="13" y="665" width="1" height="1" fill="#c0c0c0"/>
<rect x="21" y="665" width="1" height="1" fill="#c0c0c0"/>
<rect x="29" y="665" width="1" height="2" fill="#c0c0c0"/>
<rect x="37" y="665" width="1" height="2" fill="#c0c0c0"/>
<rect x="45" y="665" width="1" height="2" fill="#c0c0c0"/>
<rect x="53" y="665" width="1" height="3" fill="#c0c0c0"/>
<rect x="61" y="665" width="1" height="3" fill="#c0c0c0"/>
<rect x="69" y="665" width="1" height="4" fill="#c0c0c0"/>
<rect x="77" y="665" width="1" height="4" fill="#c0c0c0"/>
<rect x="85" y="665" width="1" height="5" fill="#c0c0c0"/>
<rect x="93" y="665" width="1" height="5" fill="#c0c0c0"/>
<rect x="101" y="665" width="1" height="6" fill="#c0c0c0"/>
<rect x="109" y="665" width="1" height="7" fill="#c0c0c0"/>
<rect x="117" y="665" width="1" height="9" fill="#c0c0c0"/>
<rect x="125" y="665" width="1" height="10" fill="#c0c0c0"/>
<rect x="133" y="665" width="1" height="11" fill="#c0c0c0"/>
<rect x="141" y="665" width="1" height="12" fill="#c0c0c0"/>
<rect x="149" y="665" width="1" height="13" fill="#c0c0c0"/>
<rect x="157" y="665" width="1" height="14" fill="#c0c0c0"/>
<rect x="165" y="665" width="1" height="13" fill="#c0c0c0"/>
<rect x="173" y="665" width="1" height="12" fill="#c0c0c0"/>
<rect x="181" y="665" width="1" height="12" fill="#c0c0c0"/>
<rect x="189" y="665" width="1" height="12" fill="#c0c0c0"/>
<rect x="197" y="665" width="1" height="13" fill="#c0c0c0"/>
<rect x="205" y="665" width="1" height="13" fill="#c0c0c0"/>
<rect x="213" y="665" width="1" height="12" fill="#c0c0c0"/>
<rect x="221" y="665" width="1" height="11" fill="#c0c0c0"/>
<rect x="229" y="665" width="1" height="10" fill="#c0c0c0"/>
<rect x="237" y="665" width="1" height="9" fill="#c0c0c0"/>
<rect x="245" y="665" width="1" height="9" fill="#c0c0c0"/>
<rect x="253" y="665" width="1" height="9" fill="#c0c0c0"/>
<rect x="261" y="665" width="1" height="9" fill="#c0c0c0"/>
<rect x="269" y="665" width="1" height="9" fill="#c0c0c0"/>
<rect x="277" y="665" width="1" height="10" fill="#c0c0c0"/>
<rect x="285" y="665" width="1" height="10" fill="#c0c0c0"/>
<rect x="293" y="665" width="1" height="11" fill="#c0c0c0"/>
<rect x="301" y="665" width="1" height="11" fill="#c0c0c0"/>
<rect x="309" y="665" width="1" height="11" fill="#c0c0c0"/>
<rect x="317" y="665" width="1" height="13" fill="#c0c0c0"/>
<rect x="325" y="665" width="1" height="13" fill="#c0c0c0"/>
<rect x="333" y="665" width="1" height="15" fill="#c0c0c0"/>
<rect x="341" y="665" width="1" height="16" fill="#c0c0c0"/>
<rect x="349" y="665" width="1" height="16" fill="#c0c0c0"/>
<rect x="357" y="665" width="1" height="14" fill="#c0c0c0"/>
<rect x="365" y="665" width="1" height="13" fill="#c0c0c0"/>
<rect x="373" y="665" width="1" height="12" fill="#c0c0c0"/>
<rect x="381" y="665" width="1" height="10" fill="#c0c0c0"/>
<rect x="389" y="665" width="1" height="9" fill="#c0c0c0"/>
<rect x="397" y="665" width="1" height="7" fill="#c0c0c0"/>
<rect x="405" y="665" width="1" height="10" fill="#c0c0c0"/>
<rect x="413" y="665" width="1" height="10" fill="#c0c0c0"/>
<rect x="421" y="665" width="1" height="15" fill="#c0c0c0"/>
<rect x="429" y="665" width="1" height="21" fill="#c0c0c0"/>
<rect x="437" y="665" width="1" height="25" fill="#c0c0c0"/>
<rect x="445" y="665" width="1" height="29" fill="#c0c0c0"/>
<rect x="453" y="665" width="1" height="34" fill="#c0c0c0"/>
<rect x="461" y="665" width="1" height="40" fill="#c0c0c0"/>
<rect x="469" y="665" width="1" height="44" fill="#c0c0c0"/>
<rect x="477" y="665" width="1" height="47" fill="#c0c0c0"/>
<rect x="485" y="665" width="1" height="50" fill="#c0c0c0"/>
<rect x="493" y="665" width="1" height="52" fill="#c0c0c0"/>
<rect x="501" y="665" width="1" height="50" fill="#c0c0c0"/>
<rect x="509" y="665" width="1" height="47" fill="#c0c0c0"/>
<rect x="517" y="665" width="1" height="43" fill="#c0c0c0"/>
<rect x="525" y="665" width="1" height="38" fill="#c0c0c0"/>
<rect x="533" y="665" width="1" height="32" fill="#c0c0c0"/>
<rect x="541" y="665" width="1" height="28" fill="#c0c0c0"/>
<rect x="549" y="665" width="1" height="25" fill="#c0c0c0"/>
<rect x="557" y="665" width="1" height="23" fill="#c0c0c0"/>
<rect x="565" y="665" width="1" height="22" fill="#c0c0c0"/>
<rect x="573" y="665" width="1" height="22" fill="#c0c0c0"/>
<rect x="581" y="665" width="1" height="21" fill="#c0c0c0"/>
<rect x="589" y="665" width="1" height="19" fill="#c0c0c0"/>
<rect x="597" y="665" width="1" height="16" fill="#c0c0c0"/>
<rect x="605" y="665" width="1" height="12" fill="#c0c0c0"/>
<rect x="613" y="665" width="1" height="8" fill="#c0c0c0"/>
<rect x="621" y="665" width="1" height="3" fill="#c0c0c0"/>
<rect x="629" y="664" width="1" height="2" fill="#c0c0c0"/>
<rect x="637" y="661" width="1" height="5" fill="#c0c0c0"/>
<rect x="645" y="657" width="1" height="9" fill="#c0c0c0"/>
<rect x="653" y="657" width="1" height="9" fill="#c0c0c0"/>
<rect x="661" y="657" width="1" height="9" fill="#c0c0c0"/>
<rect x="669" y="656" width="1" height="10" fill="#c0c0c0"/>
<rect x="677" y="655" width="1" height="11" fill="#c0c0c0"/>
<rect x="685" y="654" width="1" height="12" fill="#c0c0c0"/>
<rect x="693" y="656" width="1" height="10" fill="#c0c0c0"/>
<rect x="701" y="656" width="1" height="10" fill="#c0c0c0"/>
<rect x="709" y="655" width="1" height="11" fill="#c0c0c0"/>
<rect x="717" y="655" width="1" height="11" fill="#c0c0c0"/>
<rect x="725" y="655" width="1" height="11" fill="#c0c0c0"/>
<rect x="733" y="653" width="1" height="13" fill="#c0c0c0"/>
<rect x="741" y="652" width="1" height="14" fill="#c0c0c0"/>
<rect x="749" y="650" width="1" height="16" fill="#c0c0c0"/>
<rect x="757" y="649" width="1" height="17" fill="#c0c0c0"/>
<rect x="765" y="650" width="1" height="16" fill="#c0c0c0"/>
<rect x="773" y="651" width="1" height="15" fill="#c0c0c0"/>
<rect x="781" y="653" width="1" height="13" fill="#c0c0c0"/>
<rect x="789" y="653" width="1" height="13" fill="#c0c0c0"/>
<rect x="797" y="654" width="1" height="12" fill="#c0c0c0"/>
<rect x="805" y="653" width="1" height="13" fill="#c0c0c0"/>
<rect x="813" y="652" width="1" height="14" fill="#c0c0c0"/>
<rect x="821" y="652" width="1" height="14" fill="#c0c0c0"/>
<rect x="829" y="653" width="1" height="13" fill="#c0c0c0"/>
<rect x="837" y="653" width="1" height="13" fill="#c0c0c0"/>
<rect x="845" y="654" width="1" height="12" fill="#c0c0c0"/>
<rect x="853" y="656" width="1" height="10" fill="#c0c0c0"/>
<rect x="861" y="657" width="1" height="9" fill="#c0c0c0"/>
<rect x="869" y="659" width="1" height="7" fill="#c0c0c0"/>
<rect x="877" y="658" width="1" height="8" fill="#c0c0c0"/>
<rect x="885" y="656" width="1" height="10" fill="#c0c0c0"/>
<rect x="893" y="655" width="1" height="11" fill="#c0c0c0"/>
<rect x="901" y="655" width="1" height="11" fill="#c0c0c0"/>
<rect x="909" y="655" width="1" height="11" fill="#c0c0c0"/>
<rect x="917" y="655" width="1" height="11" fill="#c0c0c0"/>
<rect x="925" y="655" width="1" height="11" fill="#c0c0c0"/>
<rect x="933" y="654" width="1" height="12" fill="#c0c0c0"/>
<rect x="941" y="654" width="1" height="12" fill="#c0c0c0"/>
<rect x="949" y="652" width="1" height="14" fill="#c0c0c0"/>
<rect x="957" y="652" width="1" height="14" fill="#c0c0c0"/>
<rect x="965" y="651" width="1" height="15" fill="#c0c0c0"/>
<rect x="973" y="649" width="1" height="17" fill="#c0c0c0"/>
<rect x="981" y="646" width="1" height="20" fill="#c0c0c0"/>
<rect x="989" y="642" width="1" height="24" fill="#c0c0c0"/>
<rect x="997" y="639" width="1" height="27" fill="#c0c0c0"/>
<rect x="1005" y="637" width="1" height="29" fill="#c0c0c0"/>
<rect x="1013" y="636" width="1" height="30" fill="#c0c0c0"/>
<rect x="1021" y="634" width="1" height="32" fill="#c0c0c0"/>
<rect x="1029" y="635" width="1" height="31" fill="#c0c0c0"/>
<rect x="1037" y="634" width="1" height="32" fill="#c0c0c0"/>
<rect x="1045" y="636" width="1" height="30" fill="#c0c0c0"/>
<rect x="1053" y="639" width="1" height="27" fill="#c0c0c0"/>
<rect x="1061" y="642" width="1" height="24" fill="#c0c0c0"/>
<rect x="1069" y="644" width="1" height="22" fill="#c0c0c0"/>
<rect x="1077" y="645" width="1" height="21" fill="#c0c0c0"/>
<rect x="1085" y="646" width="1" height="20" fill="#c0c0c0"/>
<rect x="1093" y="648" width="1" height="18" fill="#c0c0c0"/>
<rect x="1101" y="649" width="1" height="17" fill="#c0c0c0"/>
<rect x="1109" y="651" width="1" height="15" fill="#c0c0c0"/>
<rect x="1117" y="651" width="1" height="15" fill="#c0c0c0"/>
<rect x="1125" y="651" width="1" height="15" fill="#c0c0c0"/>
<rect x="1133" y="652" width="1" height="14" fill="#c0c0c0"/>
<rect x="1141" y="653" width="1" height="13" fill="#c0c0c0"/>
<rect x="1149" y="655" width="1" height="11" fill="#c0c0c0"/>
<rect x="1157" y="655" width="1" height="11" fill="#c0c0c0"/>
<rect x="1165" y="657" width="1" height="9" fill="#c0c0c0"/>
<rect x="1173" y="657" width="1" height="9" fill="#c0c0c0"/>
<rect x="1181" y="657" width="1" height="9" fill="#c0c0c0"/>
<rect x="1189" y="657" width="1" height="9" fill="#c0c0c0"/>
<rect x="1197" y="656" width="1" height="10" fill="#c0c0c0"/>
<rect x="1205" y="656" width="1" height="10" fill="#c0c0c0"/>
<rect x="1213" y="656" width="1" height="10" fill="#c0c0c0"/>
<rect x="1221" y="655" width="1" height="11" fill="#c0c0c0"/>
<rect x="1229" y="655" width="1" height="11" fill="#c0c0c0"/>
<rect x="1237" y="655" width="1" height="11" fill="#c0c0c0"/>
<rect x="1245" y="656" width="1" height="10" fill="#c0c0c0"/>
<rect x="1253" y="656" width="1" height="10" fill="#c0c0c0"/>
<rect x="1261" y="657" width="1" height="9" fill="#c0c0c0"/>
<polyline points="5,661.1 13,661.8 21,662.6 29,663.4 37,664.2 45,664.9 53,665.4 61,665.8 69,666.1 77,666.5 85,666.9 93,667.3 101,667.8 109,668.4 117,669.2 125,669.9 133,670.8 141,671.8 149,672.7 157,673.7 165,674.6 173,675.3 181,675.8 189,676.2 197,676.5 205,676.6 213,676.5 221,676.3 229,675.8 237,675.4 245,675.1 253,674.7 261,674.3 269,673.9 277,673.6 285,673.4 293,673.4 301,673.5 309,673.8 317,674.2 325,674.6 333,675.4 341,676.2 349,676.8 357,677.3 365,677.5 373,677.6 381,677.4 389,677.0 397,676.4 405,675.7 413,675.1 421,675.0 429,675.8 437,677.2 445,679.1 453,681.7 461,685.3 469,689.4 477,693.6 485,698.0 493,702.1 501,705.3 509,707.8 517,709.4 525,709.8 533,708.9 541,707.1 549,704.7 557,701.7 565,698.4 573,695.2 581,692.3 589,689.7 597,687.2 605,685.0 613,682.6 621,680.2 629,677.6 637,674.8 645,671.7 653,668.5 661,665.6 669,662.9 677,660.6 685,658.7 693,657.4 701,656.6 709,656.0 717,655.7 725,655.5 733,655.1 741,654.7 749,654.1 757,653.5 765,652.8 773,652.3 781,652.0 789,651.8 797,651.6 805,651.6 813,651.7 821,651.9 829,652.3 837,652.7 845,652.9 853,653.3 861,653.8 869,654.3 877,654.8 885,655.3 893,655.6 901,655.8 909,656.0 917,656.2 925,656.1 933,655.7 941,655.2 949,654.6 957,654.1 965,653.7 973,653.1 981,652.1 989,650.6 997,648.8 1005,646.9 1013,644.9 1021,642.9 1029,641.0 1037,639.0 1045,637.6 1053,636.9 1061,636.9 1069,637.3 1077,638.2 1085,639.3 1093,640.8 1101,642.5 1109,644.3 1117,646.0 1125,647.3 1133,648.5 1141,649.6 1149,650.6 1157,651.7 1165,652.7 1173,653.5 1181,654.2 1189,654.8 1197,655.4 1205,655.8 1213,656.1 1221,656.2 1229,656.2 1237,656.0 1245,655.9 1253,655.9 1261,655.9" fill="none" stroke="#ff0000" stroke-width="1" stroke-dasharray="3,3"/>
<text transform="translate(9,641) scale(0.95,1)" font-size="9.8" fill="#000" stroke="#000" stroke-width="0.14">MACD(12,26,9) 0.003821 0.004189</text>
<text transform="translate(1601,639) scale(0.92,1)" font-size="10.2" fill="#000" stroke="#000" stroke-width="0.14">0.015741</text>
<text transform="translate(1601,669) scale(0.92,1)" font-size="10.2" fill="#000" stroke="#000" stroke-width="0.14">0.00</text>
<text transform="translate(1601,717) scale(0.92,1)" font-size="10.2" fill="#000" stroke="#000" stroke-width="0.14">-0.02441</text>
<rect x="1598" y="630" width="2" height="1" fill="#000"/>
<rect x="1598" y="665" width="2" height="1" fill="#000"/>
<rect x="5" y="721" width="1" height="3" fill="#000"/>
<text transform="translate(4.5,733) scale(0.93,1)" font-size="9.6" fill="#000" stroke="#000" stroke-width="0.14">11 Jan 2020</text>
<rect x="69" y="721" width="1" height="3" fill="#000"/>
<text transform="translate(68.5,733) scale(0.93,1)" font-size="9.6" fill="#000" stroke="#000" stroke-width="0.14">21 Jan 2020</text>
<rect x="133" y="721" width="1" height="3" fill="#000"/>
<text transform="translate(132.5,733) scale(0.93,1)" font-size="9.6" fill="#000" stroke="#000" stroke-width="0.14">30 Jan 2020</text>
<rect x="197" y="721" width="1" height="3" fill="#000"/>
<text transform="translate(196.5,733) scale(0.93,1)" font-size="9.6" fill="#000" stroke="#000" stroke-width="0.14">8 Feb 2020</text>
<rect x="261" y="721" width="1" height="3" fill="#000"/>
<text transform="translate(260.5,733) scale(0.93,1)" font-size="9.6" fill="#000" stroke="#000" stroke-width="0.14">18 Feb 2020</text>
<rect x="325" y="721" width="1" height="3" fill="#000"/>
<text transform="translate(324.5,733) scale(0.93,1)" font-size="9.6" fill="#000" stroke="#000" stroke-width="0.14">27 Feb 2020</text>
<rect x="389" y="721" width="1" height="3" fill="#000"/>
<text transform="translate(388.5,733) scale(0.93,1)" font-size="9.6" fill="#000" stroke="#000" stroke-width="0.14">7 Mar 2020</text>
<rect x="453" y="721" width="1" height="3" fill="#000"/>
<text transform="translate(452.5,733) scale(0.93,1)" font-size="9.6" fill="#000" stroke="#000" stroke-width="0.14">17 Mar 2020</text>
<rect x="517" y="721" width="1" height="3" fill="#000"/>
<text transform="translate(516.5,733) scale(0.93,1)" font-size="9.6" fill="#000" stroke="#000" stroke-width="0.14">26 Mar 2020</text>
<rect x="581" y="721" width="1" height="3" fill="#000"/>
<text transform="translate(580.5,733) scale(0.93,1)" font-size="9.6" fill="#000" stroke="#000" stroke-width="0.14">4 Apr 2020</text>
<rect x="645" y="721" width="1" height="3" fill="#000"/>
<text transform="translate(644.5,733) scale(0.93,1)" font-size="9.6" fill="#000" stroke="#000" stroke-width="0.14">14 Apr 2020</text>
<rect x="709" y="721" width="1" height="3" fill="#000"/>
<text transform="translate(708.5,733) scale(0.93,1)" font-size="9.6" fill="#000" stroke="#000" stroke-width="0.14">23 Apr 2020</text>
<rect x="773" y="721" width="1" height="3" fill="#000"/>
<text transform="translate(772.5,733) scale(0.93,1)" font-size="9.6" fill="#000" stroke="#000" stroke-width="0.14">2 May 2020</text>
<rect x="837" y="721" width="1" height="3" fill="#000"/>
<text transform="translate(836.5,733) scale(0.93,1)" font-size="9.6" fill="#000" stroke="#000" stroke-width="0.14">12 May 2020</text>
<rect x="901" y="721" width="1" height="3" fill="#000"/>
<text transform="translate(900.5,733) scale(0.93,1)" font-size="9.6" fill="#000" stroke="#000" stroke-width="0.14">21 May 2020</text>
<rect x="965" y="721" width="1" height="3" fill="#000"/>
<text transform="translate(964.5,733) scale(0.93,1)" font-size="9.6" fill="#000" stroke="#000" stroke-width="0.14">30 May 2020</text>
<rect x="1029" y="721" width="1" height="3" fill="#000"/>
<text transform="translate(1028.5,733) scale(0.93,1)" font-size="9.6" fill="#000" stroke="#000" stroke-width="0.14">9 Jun 2020</text>
<rect x="1093" y="721" width="1" height="3" fill="#000"/>
<text transform="translate(1092.5,733) scale(0.93,1)" font-size="9.6" fill="#000" stroke="#000" stroke-width="0.14">18 Jun 2020</text>
<rect x="1157" y="721" width="1" height="3" fill="#000"/>
<text transform="translate(1156.5,733) scale(0.93,1)" font-size="9.6" fill="#000" stroke="#000" stroke-width="0.14">27 Jun 2020</text>
<rect x="1221" y="721" width="1" height="3" fill="#000"/>
<text transform="translate(1220.5,733) scale(0.93,1)" font-size="9.6" fill="#000" stroke="#000" stroke-width="0.14">7 Jul 2020</text>
<rect x="0" y="742" width="1636" height="26" fill="#f0f0f0"/>
<rect x="0" y="741" width="1636" height="1" fill="#e3e3e3"/>
<rect x="0" y="742" width="1636" height="1" fill="#ffffff"/>
<rect x="2" y="744" width="1636" height="1" fill="#fafafa"/>
<rect x="0" y="743" width="1636" height="1" fill="#000"/>
<rect x="0" y="767" width="1636" height="1" fill="#a0a0a0"/>
<rect x="0" y="763" width="1636" height="1" fill="#ffffff"/>
<rect x="0" y="744" width="1" height="19" fill="#b8b8b8"/>
<rect x="1" y="744" width="1" height="19" fill="#808080"/>
<rect x="210" y="743" width="104" height="19" fill="#ffffff"/>
<rect x="210" y="743" width="1" height="19" fill="#000"/>
<rect x="313" y="743" width="1" height="19" fill="#000"/>
<rect x="210" y="761" width="104" height="1" fill="#000"/>
<text x="18.5" y="758" font-size="12" fill="#707070">EURUSD,Daily</text>
<text x="120.2" y="758" font-size="12" fill="#707070">USDCHF,Daily</text>
<text x="221.6" y="758" font-size="12" fill="#000">AUDUSD,Daily</text>
<text x="324.6" y="758" font-size="12" fill="#707070">USDCAD,Daily</text>
<text x="428.4" y="758" font-size="12" fill="#707070">USDCNH,Daily</text>
<text x="532.8" y="758" font-size="12" fill="#707070">EURUSD,M15</text>
<text x="632.8" y="758" font-size="12" fill="#707070">GBPUSD,M30</text>
<text x="733.1" y="758" font-size="12" fill="#707070">XAUUSD,Daily</text>
<text x="837.1" y="758" font-size="12" fill="#707070">HK50,H1</text>
<text x="909.7" y="758" font-size="12" fill="#707070">UK100,H1</text>
<text x="989.5" y="758" font-size="12" fill="#707070">UK100,H1</text>
<text x="1069.2" y="758" font-size="12" fill="#707070">GER30,H1</text>
<text x="1148.7" y="758" font-size="12" fill="#707070">FRA40,H1</text>
<text x="1225" y="758" font-size="12" fill="#707070">USOil,Daily</text>
<text x="1307.8" y="758" font-size="12" fill="#707070">USDJPY,H1</text>
<text x="1392.5" y="758" font-size="12" fill="#707070">DJ30,M15</text>
<rect x="110" y="746" width="1" height="14" fill="#707070"/>
<rect x="418" y="746" width="1" height="14" fill="#707070"/>
<rect x="522" y="746" width="1" height="14" fill="#707070"/>
<rect x="622" y="746" width="1" height="14" fill="#707070"/>
<rect x="722" y="746" width="1" height="14" fill="#707070"/>
<rect x="826" y="746" width="1" height="14" fill="#707070"/>
<rect x="898" y="746" width="1" height="14" fill="#707070"/>
<rect x="978" y="746" width="1" height="14" fill="#707070"/>
<rect x="1058" y="746" width="1" height="14" fill="#707070"/>
<rect x="1138" y="746" width="1" height="14" fill="#707070"/>
<rect x="1214" y="746" width="1" height="14" fill="#707070"/>
<rect x="1298" y="746" width="1" height="14" fill="#707070"/>
<rect x="1382" y="746" width="1" height="14" fill="#707070"/>
<rect x="1462" y="746" width="1" height="14" fill="#707070"/>
<path d="M1616 749 L1616 755 L1613 752 Z" fill="#8c8c8c" shape-rendering="auto"/>
<path d="M1632 749 L1632 755 L1635 752 Z" fill="#8c8c8c" shape-rendering="auto"/>
</svg>
</body></html>
